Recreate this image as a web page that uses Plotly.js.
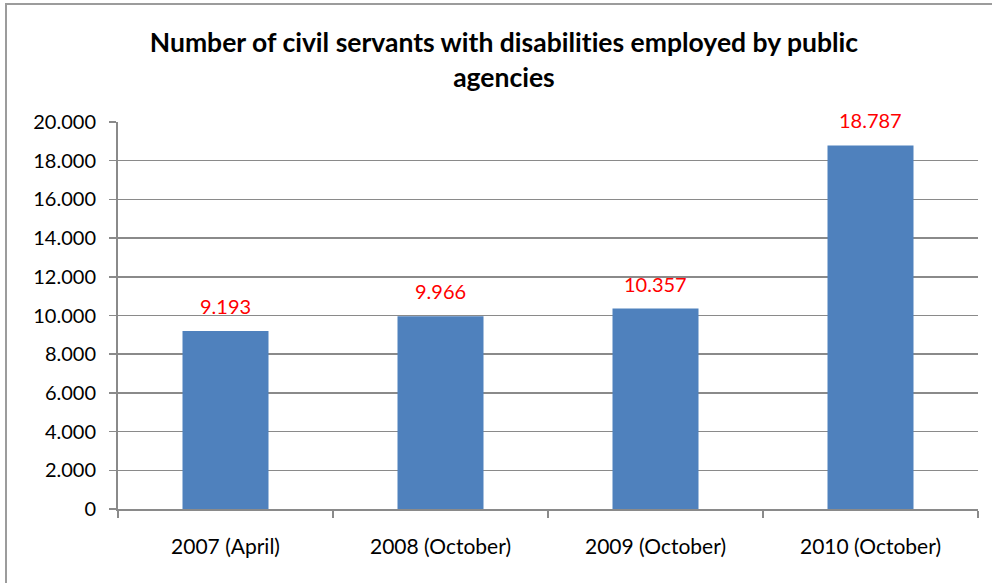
<!DOCTYPE html>
<html>
<head>
<meta charset="utf-8">
<script src="https://cdn.plot.ly/plotly-3.0.1.min.js"></script>
<style>
  html, body { margin: 0; padding: 0; background: #ffffff; }
  #wrap { position: relative; width: 992px; height: 583px; overflow: hidden; }
  #chart { position: absolute; left: 0; top: 0; width: 992px; height: 583px; }
  #chart svg text { font-variant-ligatures: none; font-feature-settings: "liga" 0, "clig" 0; }
  #frame {
    position: absolute; left: 5px; top: 3px; width: 1100px; height: 700px;
    border-left: 2px solid #9c9c9c; border-top: 2px solid #9c9c9c;
    pointer-events: none;
  }
</style>
</head>
<body>
<div id="wrap">
  <div id="chart"></div>
  <div id="frame"></div>
</div>
<script>
// Civil servants with disabilities employed by public agencies
const periods = ["2007 (April)", "2008 (October)", "2009 (October)", "2010 (October)"];
const employees = [9193, 9966, 10357, 18787];
const yTicks = [0, 2000, 4000, 6000, 8000, 10000, 12000, 14000, 16000, 18000, 20000];

const FONT = "Lato, 'Open Sans', sans-serif";
const AXIS_GREY = "#8a8a8a";

const bars = {
  type: "bar",
  x: periods,
  y: employees,
  marker: { color: "#4f81bd", line: { width: 0 } },
  width: 0.4,
  hoverinfo: "x+y"
};

// value labels above each bar, in red
const valueLabels = periods.map((p, i) => ({
  x: p,
  y: employees[i],
  xref: "x",
  yref: "y",
  text: employees[i].toLocaleString("de-DE"),
  showarrow: false,
  yanchor: "middle",
  yshift: 25,
  font: { family: FONT, size: 20, color: "#ff0000" }
}));

const layout = {
  width: 992,
  height: 583,
  margin: { l: 118, r: 14, t: 122, b: 74, pad: 0 },
  paper_bgcolor: "#ffffff",
  plot_bgcolor: "#ffffff",
  separators: ",.",
  showlegend: false,
  bargap: 0.6,
  title: {
    text: "<b>Number of civil servants with disabilities employed by public<br>agencies</b>",
    font: { family: FONT, size: 26.5, color: "#000000" },
    x: 0.508,
    xanchor: "center",
    y: 0.91,
    yanchor: "middle"
  },
  xaxis: {
    type: "category",
    showgrid: false,
    showline: true,
    linecolor: AXIS_GREY,
    linewidth: 2,
    ticks: "outside",
    tickson: "boundaries",
    ticklen: 7,
    tickwidth: 1.5,
    tickcolor: AXIS_GREY,
    ticklabelstandoff: 18,
    tickfont: { family: FONT, size: 21, color: "#000000" },
    zeroline: false,
    fixedrange: true
  },
  yaxis: {
    range: [0, 20000],
    tickvals: yTicks,
    tickformat: ",d",
    showgrid: true,
    gridcolor: AXIS_GREY,
    gridwidth: 1.5,
    showline: true,
    linecolor: AXIS_GREY,
    linewidth: 2,
    ticks: "outside",
    ticklen: 7,
    tickwidth: 1.5,
    tickcolor: AXIS_GREY,
    ticklabelstandoff: 9,
    tickfont: { family: FONT, size: 20, color: "#000000" },
    zeroline: false,
    fixedrange: true
  },
  annotations: valueLabels
};

Plotly.newPlot("chart", [bars], layout, { displayModeBar: false, staticPlot: true });
</script>
</body>
</html>
